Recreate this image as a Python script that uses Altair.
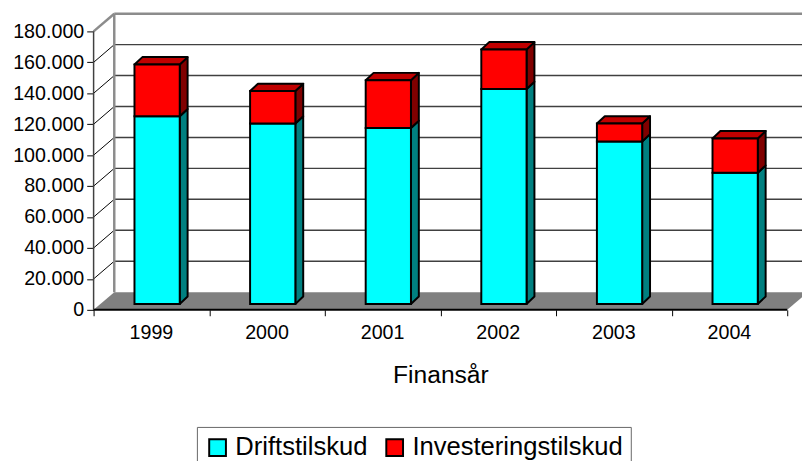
import altair as alt
import pandas as pd

# ---------------- data ----------------
years = ["1999", "2000", "2001", "2002", "2003", "2004"]
drift = [121300, 116600, 113700, 138900, 105000, 84800]
invest = [33500, 21000, 30900, 25600, 11600, 22200]
series = ["Driftstilskud", "Investeringstilskud"]
y_ticks = [0, 20000, 40000, 60000, 80000, 100000, 120000, 140000, 160000, 180000]
x_title = "Finansår"

# ---------------- style ----------------
FONT = "Liberation Sans"
front_colors = ["#00FFFF", "#FF0000"]
side_colors = ["#008080", "#800000"]
top_color = "#C00000"

# ---------------- layout (pixels) ----------------
PLOT_W = 720
PLOT_H = 301
CAT_PX = 117.5
PX_PER_VAL = 283 / 180000.0
X_MAX = PLOT_W / CAT_PX
Y_MAX = PLOT_H / PX_PER_VAL
N = len(years)
Y_TOP = y_ticks[-1]


def ux(p):
    return p / CAT_PX


def uy(p):
    return p / PX_PER_VAL


DX, DY = ux(21), uy(18)       # depth of the box
BX, BY = ux(5.8), uy(6)       # offset of bar front face
BW = ux(46)                   # bar width
SDX, SDY = ux(8), uy(7.5)     # bar depth

xs = alt.Scale(domain=[0, X_MAX], nice=False, zero=False)
ys = alt.Scale(domain=[0, Y_MAX], nice=False, zero=False)

# ---------------- tables built from the lists ----------------
front_rows, side_rows, top_rows = [], [], []
for i, yr in enumerate(years):
    xl = i + 0.5 - BW / 2 + BX
    xr = xl + BW
    base = BY
    for s, val, sc in zip(series, [drift[i], invest[i]], side_colors):
        lo, hi = base, base + val
        front_rows.append(dict(year=yr, series=s, x=xl, x2=xr, y=lo, y2=hi))
        fid = f"{yr}-{s}"
        side_rows.append(dict(face=fid, x=xr, y=hi, y2=lo, col=sc))
        side_rows.append(dict(face=fid, x=xr + SDX, y=hi + SDY, y2=lo + SDY, col=sc))
        base = hi
    top_rows.append(dict(face=yr, y=base, x=xl, x2=xr, col=top_color))
    top_rows.append(dict(face=yr, y=base + SDY, x=xl + SDX, x2=xr + SDX, col=top_color))

front_df = pd.DataFrame(front_rows)
side_df = pd.DataFrame(side_rows)
top_df = pd.DataFrame(top_rows)

floor_df = pd.DataFrame([
    dict(y=0, x=0, x2=N),
    dict(y=DY, x=DX, x2=N + DX),
])

grid_df = pd.DataFrame([dict(x=DX, x2=X_MAX, y=v + DY, y2=v + DY) for v in y_ticks[1:-1]])
diag_df = pd.DataFrame([dict(x=0, x2=DX, y=v, y2=v + DY) for v in y_ticks[1:-1]])
edge_df = pd.DataFrame([
    dict(x=0, x2=DX, y=Y_TOP, y2=Y_TOP + DY),
    dict(x=DX, x2=DX, y=DY, y2=Y_TOP + DY),
    dict(x=DX, x2=X_MAX, y=Y_TOP + DY, y2=Y_TOP + DY),
])
front_edge_df = pd.DataFrame([dict(x=0, x2=0, y=0, y2=Y_TOP)])
floor_edge_df = pd.DataFrame([dict(x=0, x2=N, y=0, y2=0)])
label_df = pd.DataFrame(dict(year=years, xc=[i + 0.5 for i in range(N)], y0=[0] * N))

# ---------------- layers ----------------
y_axis = alt.Axis(
    orient="left", values=y_ticks, grid=False, domain=False, ticks=True, tickSize=7,
    tickWidth=1, tickColor="black", labelPadding=3, labelFontSize=20, labelFont=FONT,
    labelColor="black", title=None,
    labelExpr="replace(format(datum.value, ','), ',', '.')",
)
x_axis = alt.Axis(
    orient="bottom", values=list(range(N + 1)), grid=False, domain=False, labels=False,
    ticks=True, tickSize=6, tickWidth=1, tickColor="black", title=x_title,
    titleFontSize=25, titleFont=FONT, titleFontWeight="normal", titleColor="black",
    titleX=3 * CAT_PX, titleY=74, titleBaseline="alphabetic", titleAlign="center",
)

floor = alt.Chart(floor_df).mark_area(orient="horizontal", color="#808080").encode(
    y=alt.Y("y:Q", scale=ys, axis=y_axis),
    x=alt.X("x:Q", scale=xs, axis=x_axis, stack=None),
    x2="x2:Q",
)


def rules(df, color, width):
    return alt.Chart(df).mark_rule(color=color, strokeWidth=width).encode(
        x=alt.X("x:Q", scale=xs, axis=None),
        x2="x2:Q",
        y=alt.Y("y:Q", scale=ys, axis=None),
        y2="y2:Q",
    )


grid = rules(grid_df, "#404040", 1.5)
diag = rules(diag_df, "#000000", 1)
edges = rules(edge_df, "#8C8C8C", 2.5)
front_edge = rules(front_edge_df, "#404040", 1.5)
floor_edge = rules(floor_edge_df, "#000000", 2)

sides = alt.Chart(side_df).mark_area(
    orient="vertical", stroke="black", strokeWidth=2, strokeJoin="round"
).encode(
    x=alt.X("x:Q", scale=xs, axis=None),
    y=alt.Y("y:Q", scale=ys, axis=None, stack=None),
    y2="y2:Q",
    detail="face:N",
    fill=alt.Fill("col:N", scale=None),
)

tops = alt.Chart(top_df).mark_area(
    orient="horizontal", stroke="black", strokeWidth=2, strokeJoin="round"
).encode(
    y=alt.Y("y:Q", scale=ys, axis=None),
    x=alt.X("x:Q", scale=xs, axis=None, stack=None),
    x2="x2:Q",
    detail="face:N",
    fill=alt.Fill("col:N", scale=None),
)

fronts = alt.Chart(front_df).mark_rect(stroke="black", strokeWidth=2, opacity=1).encode(
    x=alt.X("x:Q", scale=xs, axis=None),
    x2="x2:Q",
    y=alt.Y("y:Q", scale=ys, axis=None),
    y2="y2:Q",
    color=alt.Color(
        "series:N",
        scale=alt.Scale(domain=series, range=front_colors),
        legend=alt.Legend(
            title=None, orient="none", legendX=105, legendY=420, direction="horizontal",
            symbolType="square", symbolSize=289, symbolStrokeColor="black",
            symbolStrokeWidth=2, symbolOpacity=1, labelFontSize=26, labelFont=FONT,
            labelColor="black", padding=8, strokeColor="#666666", fillColor="white",
            columnPadding=14, labelOffset=5, labelLimit=0,
        ),
    ),
)

labels = alt.Chart(label_df).mark_text(
    fontSize=20, font=FONT, color="black", dy=24, baseline="middle", align="center"
).encode(
    x=alt.X("xc:Q", scale=xs, axis=None),
    y=alt.Y("y0:Q", scale=ys, axis=None),
    text="year:N",
)

chart = alt.layer(
    floor, grid, diag, edges, front_edge, floor_edge, sides, tops, fronts, labels
).resolve_axis(
    x="independent", y="independent"
).properties(
    width=PLOT_W,
    height=PLOT_H,
    autosize=alt.AutoSizeParams(type="none"),
    padding={"left": 87, "top": 2, "right": 0, "bottom": 160},
    background="white",
).configure_view(stroke=None)

chart.save("out.html", embed_options={"renderer": "svg", "actions": False})
